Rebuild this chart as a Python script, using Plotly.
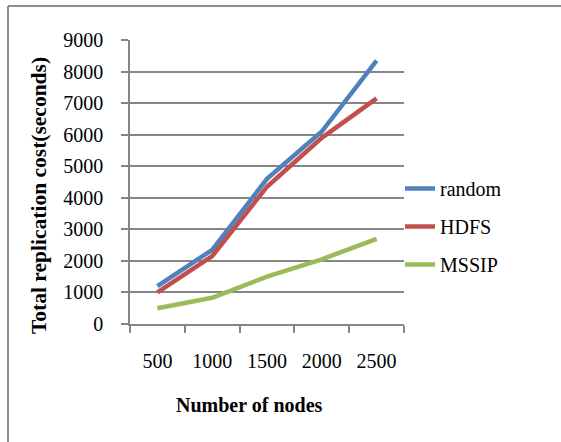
import plotly.graph_objects as go

# Number of nodes in the cluster (category axis)
nodes = ["500", "1000", "1500", "2000", "2500"]

# Total replication cost in seconds for each placement strategy
random_cost = [1200, 2350, 4600, 6100, 8350]
hdfs_cost = [1000, 2150, 4350, 5900, 7150]
mssip_cost = [500, 830, 1500, 2050, 2700]

y_ticks = [0, 1000, 2000, 3000, 4000, 5000, 6000, 7000, 8000, 9000]

W, H = 561, 442
L, R, T, B = 130, 157, 40, 118
plot_w, plot_h = W - L - R, H - T - B

FONT = "Liberation Serif, Times New Roman, serif"
GRID = "#868686"

fig = go.Figure()
series = [
    ("random", random_cost, "#4F81BD"),
    ("HDFS", hdfs_cost, "#C0504D"),
    ("MSSIP", mssip_cost, "#9BBB59"),
]
for name, vals, color in series:
    fig.add_trace(go.Scatter(
        x=nodes, y=vals, name=name, legendgroup=name, mode="lines",
        line=dict(color=color, width=4.5),
    ))


def px_x(p):
    return (p - L) / plot_w


def px_y(p):
    return (H - B - p) / plot_h


# Outer chart frame (top and left edges visible)
fig.add_shape(type="line", xref="paper", yref="paper",
              x0=px_x(8), x1=px_x(W + 10), y0=px_y(6), y1=px_y(6),
              line=dict(color="#8c8c8c", width=2))
fig.add_shape(type="line", xref="paper", yref="paper",
              x0=px_x(8), x1=px_x(8), y0=px_y(6), y1=px_y(H + 10),
              line=dict(color="#8c8c8c", width=2))

fig.add_annotation(text="<b>Number of nodes</b>", xref="paper", yref="paper",
                   x=px_x(249), y=px_y(405), xanchor="center", yanchor="middle",
                   showarrow=False,
                   font=dict(family=FONT, size=20, color="black"))
fig.add_annotation(text="<b>Total replication cost(seconds)</b>", xref="paper", yref="paper",
                   x=px_x(39), y=px_y(196), xanchor="center", yanchor="middle",
                   showarrow=False, textangle=-90,
                   font=dict(family=FONT, size=21.5, color="black"))

fig.update_layout(
    width=W, height=H,
    margin=dict(l=L, r=R, t=T, b=B, autoexpand=False),
    paper_bgcolor="white", plot_bgcolor="white",
    font=dict(family=FONT, size=20, color="black"),
    showlegend=True,
    legend=dict(
        x=px_x(400), y=px_y(169), xanchor="left", yanchor="top",
        font=dict(family=FONT, size=20, color="black"),
        tracegroupgap=9, bgcolor="rgba(0,0,0,0)",
    ),
    xaxis=dict(
        type="category", range=[-0.5, 4.5], tickson="boundaries",
        showline=True, linecolor=GRID, linewidth=1.5,
        ticks="outside", ticklen=7, tickcolor=GRID, tickwidth=1.5,
        showgrid=False, zeroline=False, ticklabelstandoff=18,
        tickfont=dict(family=FONT, size=20, color="black"),
    ),
    yaxis=dict(
        range=[0, 9000], tickmode="array", tickvals=y_ticks,
        showline=True, linecolor=GRID, linewidth=1.5,
        ticks="outside", ticklen=7, tickcolor=GRID, tickwidth=1.5,
        showgrid=True, gridcolor=GRID, gridwidth=1.5, zeroline=False,
        ticklabelstandoff=14,
        tickfont=dict(family=FONT, size=20, color="black"),
    ),
)

fig.write_html("out.html")
